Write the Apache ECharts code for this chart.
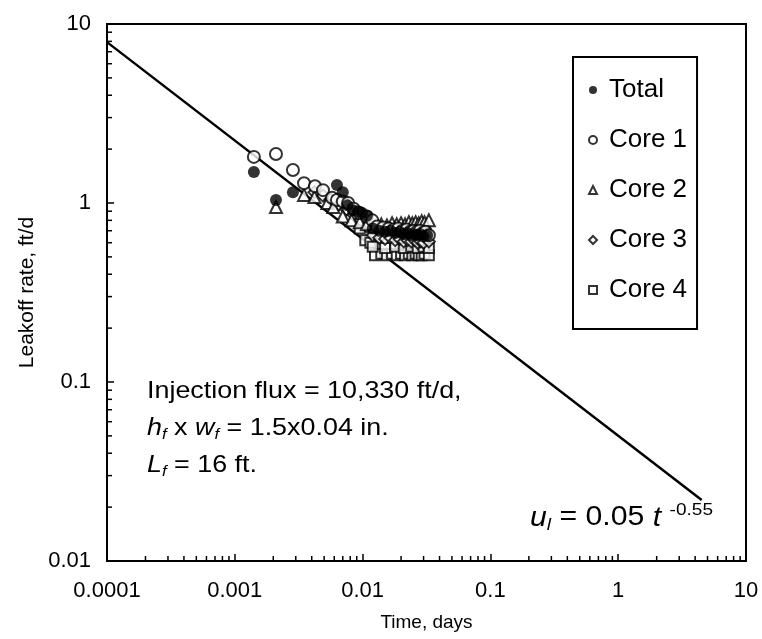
<!DOCTYPE html>
<html>
<head>
<meta charset="utf-8">
<script src="https://cdn.jsdelivr.net/npm/echarts@6/dist/echarts.min.js"></script>
<style>html,body{margin:0;padding:0;background:#fff}#c{width:762px;height:639px}</style>
</head>
<body>
<div id="c"></div>
<script>
// ---- data (time in days, leakoff rate in ft/d) ----
const totalT = [0.00141,0.0021,0.00285,0.0063,0.0070,0.0076,0.0084,0.0092,0.0099,0.0108,0.012,0.0135,0.015,0.0165,0.018,0.0195,0.021,0.0225,0.024,0.0255,0.027,0.0285,0.030,0.032];
const totalU = [1.49,1.04,1.15,1.26,1.15,0.97,0.91,0.90,0.88,0.85,0.72,0.70,0.69,0.70,0.68,0.69,0.67,0.68,0.66,0.67,0.66,0.67,0.65,0.66];

const core1T = [0.00141,0.0021,0.00285,0.00348,0.00424,0.0049,0.00577,0.0063,0.0070,0.0077,0.0085,0.0095,0.0108,0.0119,0.013,0.0145,0.016,0.0175,0.019,0.0205,0.022,0.0235,0.025,0.0265,0.028,0.0295,0.031,0.033];
const core1U = [1.81,1.88,1.53,1.29,1.24,1.18,1.07,1.04,1.02,1.00,0.93,0.88,0.84,0.80,0.74,0.73,0.72,0.71,0.72,0.70,0.71,0.69,0.70,0.69,0.70,0.68,0.69,0.66];

const core2T = [0.0021,0.00348,0.0042,0.0053,0.0059,0.0070,0.0082,0.0095,0.0108,0.0125,0.014,0.0155,0.017,0.0185,0.020,0.0215,0.023,0.0245,0.026,0.0275,0.029,0.0305,0.033];
const core2U = [0.95,1.11,1.08,1.00,0.95,0.84,0.80,0.78,0.76,0.74,0.76,0.75,0.77,0.76,0.77,0.76,0.78,0.77,0.78,0.77,0.79,0.78,0.80];

const core3T = [0.0042,0.0049,0.0056,0.0065,0.0075,0.0085,0.0097,0.0108,0.012,0.0135,0.015,0.0165,0.018,0.0195,0.021,0.0225,0.024,0.0255,0.027,0.0285,0.030,0.033];
const core3U = [1.15,1.10,1.05,0.98,0.92,0.86,0.80,0.74,0.66,0.64,0.63,0.64,0.62,0.63,0.61,0.62,0.61,0.62,0.60,0.61,0.60,0.61];

const core4T = [0.0095,0.0105,0.0115,0.0125,0.014,0.0155,0.017,0.0185,0.020,0.0215,0.023,0.0245,0.026,0.0275,0.029,0.0305,0.033,0.012,0.015,0.018,0.021,0.024,0.027,0.030,0.033];
const core4U = [0.72,0.62,0.60,0.51,0.52,0.51,0.52,0.51,0.52,0.51,0.52,0.51,0.52,0.51,0.51,0.52,0.51,0.57,0.56,0.57,0.56,0.57,0.56,0.57,0.56];

// fitted power-law line endpoints
const fitT = [0.0001, 4.5];
const fitU = [7.92, 0.0219];

const xTickLabels = ['0.0001','0.001','0.01','0.1','1','10'];
const yTickLabels = ['0.01','0.1','1','10'];
const minorMultipliers = [2,3,4,5,6,7,8,9];

const zip = (a,b) => a.map((v,i)=>[v,b[i]]);
const FONT = 'Arial, "Liberation Sans", sans-serif';

// minor tick definitions
const minorX = [];
[0.0001,0.001,0.01,0.1,1].forEach(d => minorMultipliers.forEach(m => minorX.push([d*m, 0.01])));
const minorY = [];
[0.01,0.1,1].forEach(d => minorMultipliers.forEach(m => minorY.push([0.0001, d*m])));

const chart = echarts.init(document.getElementById('c'));
const hollow = {color:'#fff', borderColor:'#000', borderWidth:2};
const pick = (list) => v => list.find(l => Math.abs(parseFloat(l)-v)/v < 1e-6) || '';

const richSub = {
  i:{fontStyle:'italic', fontSize:24, fontFamily:FONT, lineHeight:28},
  n:{fontSize:24, fontFamily:FONT, lineHeight:28},
  s:{fontStyle:'italic', fontSize:15, fontFamily:FONT, verticalAlign:'bottom'}
};

const option = {
  animation:false,
  backgroundColor:'#fff',
  grid:{left:107, right:16, top:24, bottom:78, show:true, borderColor:'#000', borderWidth:2},
  xAxis:{
    type:'log', min:0.0001, max:10, logBase:10,
    name:'Time, days', nameLocation:'middle', nameGap:52,
    nameTextStyle:{fontFamily:FONT, fontSize:19, color:'#000'},
    axisLine:{lineStyle:{color:'#000', width:2}},
    axisTick:{inside:true, length:7, lineStyle:{color:'#000', width:1.5}},
    axisLabel:{fontFamily:FONT, fontSize:22, color:'#000', margin:19, formatter:pick(xTickLabels)},
    splitLine:{show:false}
  },
  yAxis:{
    type:'log', min:0.01, max:10, logBase:10,
    name:'Leakoff rate, ft/d', nameLocation:'middle', nameGap:64, nameRotate:90,
    nameTextStyle:{fontFamily:FONT, fontSize:21, color:'#000'},
    axisLine:{lineStyle:{color:'#000', width:2}},
    axisTick:{inside:true, length:7, lineStyle:{color:'#000', width:1.5}},
    axisLabel:{fontFamily:FONT, fontSize:22, color:'#000', margin:16, formatter:pick(yTickLabels)},
    splitLine:{show:false}
  },
  legend:{
    orient:'vertical', left:573, top:57,
    data:['Total','Core 1','Core 2','Core 3','Core 4'],
    itemWidth:8, itemHeight:8, itemGap:24,
    padding:[20,10,26,15],
    borderColor:'#000', borderWidth:2, backgroundColor:'#fff',
    textStyle:{fontFamily:FONT, fontSize:26, color:'#000', padding:[0,0,0,7]}
  },
  series:[
    {type:'line', data:zip(fitT,fitU), symbol:'none', lineStyle:{color:'#000', width:2.5}, silent:true, z:1},
    {type:'custom', silent:true, z:3, data:minorX.concat(minorY),
      renderItem:(params, api) => {
        const p = api.coord([api.value(0), api.value(1)]);
        const isX = params.dataIndex < minorX.length;
        const shape = isX ? {x1:p[0], y1:p[1], x2:p[0], y2:p[1]-5} : {x1:p[0], y1:p[1], x2:p[0]+5, y2:p[1]};
        return {type:'line', shape, style:{stroke:'#000', lineWidth:1.5}};
      }},
    {name:'Core 4', type:'scatter', symbol:'rect', symbolSize:10, data:zip(core4T,core4U), itemStyle:hollow, z:4},
    {name:'Core 3', type:'scatter', symbol:'diamond', symbolSize:12, data:zip(core3T,core3U), itemStyle:hollow, z:4},
    {name:'Core 2', type:'scatter', symbol:'triangle', symbolSize:12, data:zip(core2T,core2U), itemStyle:hollow, z:4},
    {name:'Core 1', type:'scatter', symbol:'circle', symbolSize:12, data:zip(core1T,core1U), itemStyle:hollow, z:4},
    {name:'Total', type:'scatter', symbol:'circle', symbolSize:12, data:zip(totalT,totalU), itemStyle:{color:'#000'}, z:5}
  ],
  graphic:[
    {type:'text', x:147, y:391, scaleX:1.12, style:{text:'Injection flux = 10,330 ft/d,', font:'24px '+FONT, fill:'#000', verticalAlign:'middle'}},
    {type:'text', x:147, y:428, scaleX:1.12, style:{
      text:'{i|h}{s|f}{n| x }{i|w}{s|f}{n| = 1.5x0.04 in.}', fill:'#000', font:'24px '+FONT, verticalAlign:'middle', rich:richSub}},
    {type:'text', x:147, y:465, scaleX:1.12, style:{
      text:'{i|L}{s|f}{n| = 16 ft.}', fill:'#000', font:'24px '+FONT, verticalAlign:'middle', rich:richSub}},
    {type:'text', x:713, y:518, scaleX:1.12, style:{
      text:'{i|u}{s|l}{n| = 0.05 }{i|t}{n| }{p|-0.55}', fill:'#000', font:'26px '+FONT, align:'right', verticalAlign:'middle',
      rich:{
        i:{fontStyle:'italic', fontSize:27, fontFamily:FONT, lineHeight:32},
        n:{fontSize:27, fontFamily:FONT, lineHeight:32},
        s:{fontStyle:'italic', fontSize:17, fontFamily:FONT, verticalAlign:'bottom'},
        p:{fontSize:17, fontFamily:FONT, verticalAlign:'top'}
      }}}
  ]
};
chart.setOption(option);
</script>
</body>
</html>
